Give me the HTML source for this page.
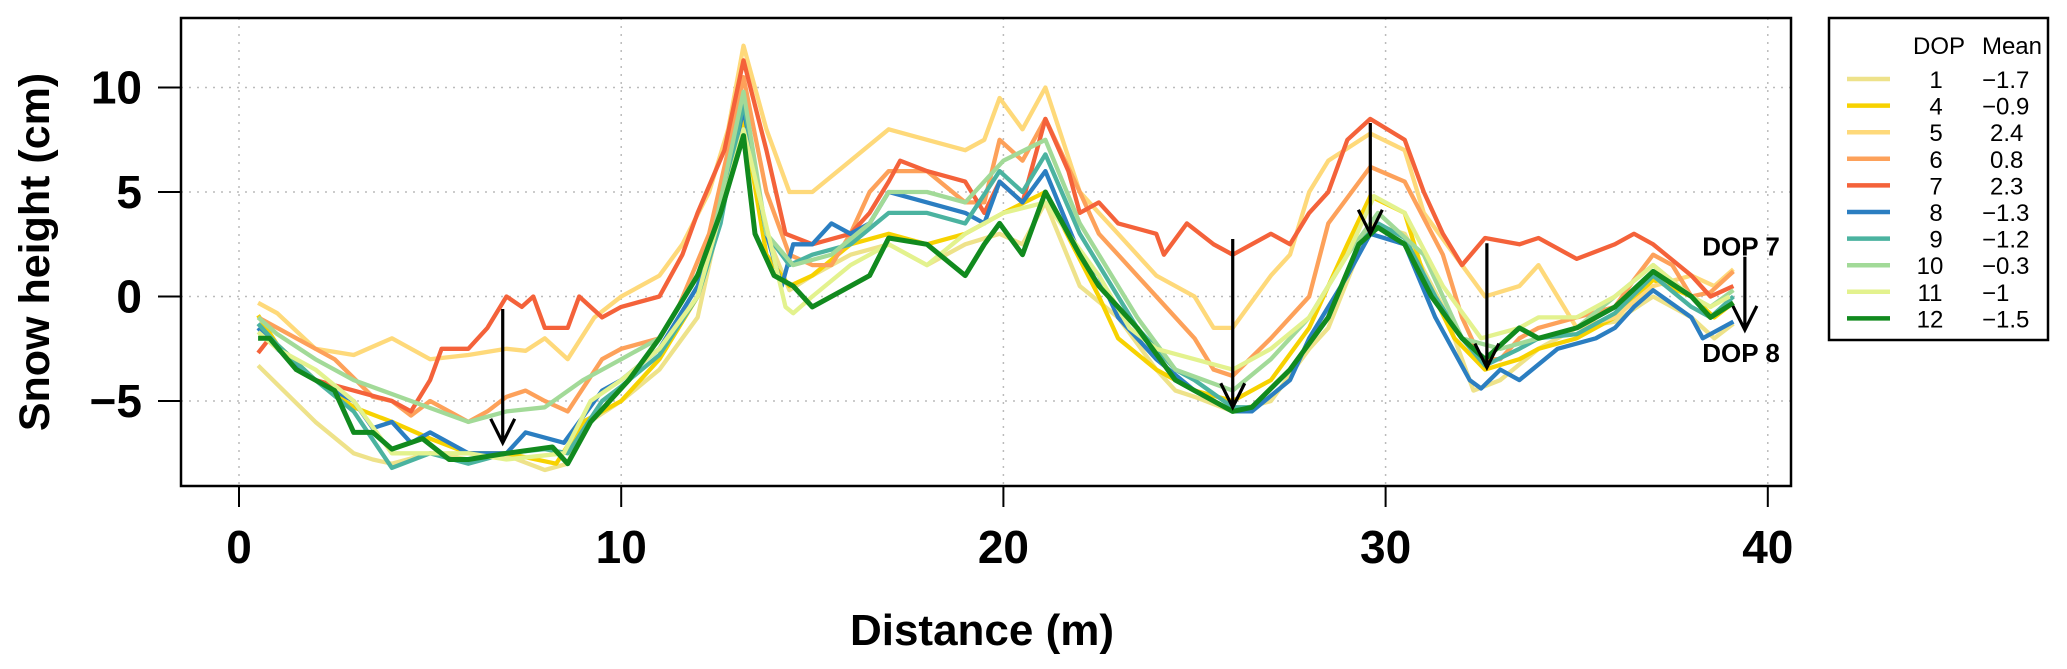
<!DOCTYPE html>
<html><head><meta charset="utf-8"><style>
html,body{margin:0;padding:0;background:#fff;}
svg{display:block;font-family:"Liberation Sans",sans-serif;}
</style></head><body>
<svg id="chart" width="2067" height="669" viewBox="0 0 2067 669" xmlns="http://www.w3.org/2000/svg">
<g id="grid"></g>
<g id="series"></g>
<g id="annot"></g>
<rect x="181" y="18" width="1610" height="468" fill="none" stroke="#000" stroke-width="2.5"/>
<g id="axes"></g>
<text x="982" y="645" text-anchor="middle" font-size="44" font-weight="bold">Distance (m)</text>
<text transform="translate(49,252) rotate(-90)" text-anchor="middle" font-size="43" font-weight="bold">Snow height (cm)</text>
<g id="legend">
<rect x="1829" y="18" width="219" height="322" fill="#fff" stroke="#000" stroke-width="2.5"/>
<text x="1939" y="54" text-anchor="middle" font-size="24">DOP</text>
<text x="2012" y="54" text-anchor="middle" font-size="24">Mean</text>
</g>
</svg>
<script>
const xTicks = [0, 10, 20, 30, 40];
const yTicks = [-5, 0, 5, 10];
const dopLabels = ['1','4','5','6','7','8','9','10','11','12'];
const meanLabels = ['\u22121.7','\u22120.9','2.4','0.8','2.3','\u22121.3','\u22121.2','\u22120.3','\u22121','\u22121.5'];
const colors = ['#EEE28A','#F7D200','#FED97A','#FDA15A','#F4623A','#2B7EC1','#4BB3A0','#A2DA98','#E3F28E','#118A1E'];

const dop1X = [0.5,1,2,3,3.5,4,5,6,7,8,8.6,9,10,11,12,12.6,13.2,13.8,14.4,15,16,17,18,19,19.9,20.5,21.1,22,23,24,24.5,25,26,27,28,28.5,29.6,30.5,31.5,32.3,33,34,35,36,37,38,38.6,39.1];
const dop1Y = [-3.3,-4.2,-6,-7.5,-7.8,-8,-7.5,-7.8,-7.6,-8.3,-8,-6.2,-5,-3.5,-1,4,9,3,0.3,1,2,2.5,1.5,2.5,3,2.5,4.5,0.5,-1,-3.5,-4.5,-4.8,-5.5,-5,-2.5,-1.5,3.5,3,-0.5,-4.5,-4,-2.5,-1.5,-1.2,0,-1,-2,-1.3];

const dop4X = [0.5,1,2,3,4,5,6,7,8.3,9,10,11,12,12.6,13.2,13.8,14.4,15,16,17,18,19,20,21.1,22.5,23,24,25,26,27,28,29,29.6,30.5,31,31.8,32.6,33.5,34,35,36,37,38,38.6,39.1];
const dop4Y = [-0.9,-2.3,-4,-5.3,-6,-6.8,-7.5,-7.5,-8,-6,-5,-3,0,5,8.5,2,0.5,1,2.5,3,2.5,3,4,5,0,-2,-3.5,-4.5,-5,-4,-1.5,2.5,4.8,4,1,-2,-3.5,-3,-2.5,-2,-1,0.8,0,-1,-0.3];

const dop5X = [0.5,1,2,3,4,5,6,7,7.5,8,8.6,9.3,10,11,11.6,12.3,12.8,13.2,13.8,14.4,15,16,17,18,19,19.5,19.9,20.5,21.1,22,22.5,23,24,25,25.5,26,27,27.5,28,28.5,29.6,30.5,31,32,32.6,33.5,34,35,36,37,38,38.6,39.1];
const dop5Y = [-0.3,-0.8,-2.5,-2.8,-2,-3,-2.8,-2.5,-2.6,-2,-3,-1,0,1,2.5,5,8,12,8,5,5,6.5,8,7.5,7,7.5,9.5,8,10,5,4,3,1,0,-1.5,-1.5,1,2,5,6.5,7.8,7,4,1.5,0,0.5,1.5,-1.5,-1,0.5,1,0.5,1.3];

const dop6X = [0.5,1.5,2.5,3.5,4,4.5,5,6,6.5,7,7.5,8,8.6,9.5,10,11,11.5,12.3,12.8,13.2,13.8,14.4,15,15.5,16,16.5,17,18,19,19.5,19.9,20.5,21.1,22,22.5,23,24,25,25.5,26,27,28,28.5,29.6,30.5,31.5,32,32.5,33,33.5,34,35,36,36.5,37,37.5,38,38.5,39.1];
const dop6Y = [-1,-2,-3,-4.8,-5,-5.7,-5,-6,-5.5,-4.8,-4.5,-5,-5.5,-3,-2.5,-2,-0.5,3,7,10.5,5,2,1.5,1.5,3,5,6,6,4.5,4.5,7.5,6.5,8.5,5,3,2,0,-2,-3.5,-3.8,-2,0,3.5,6.2,5.5,2,-1,-3,-3,-2,-1.5,-1,-0.5,0.8,2,1.5,0,0.2,1.2];

const dop7X = [0.5,0.8,1.5,2,3,4,4.5,5,5.3,6,6.5,7,7.4,7.7,8,8.6,8.9,9.5,10,11,11.6,12,12.7,13.2,13.8,14.3,15,16,16.5,17,17.3,18,19,19.5,19.9,20.5,21.1,21.7,22,22.5,23,24,24.2,24.8,25.5,26,27,27.5,28,28.5,29,29.6,30.5,31,31.5,32,32.6,33.5,34,35,36,36.5,37,38,38.5,39.1];
const dop7Y = [-2.7,-2,-3.5,-4,-4.5,-5,-5.5,-4,-2.5,-2.5,-1.5,0,-0.5,0,-1.5,-1.5,0,-1,-0.5,0,2,4,7,11.3,7,3,2.5,3,4,5.5,6.5,6,5.5,4,5.5,4.5,8.5,6,4,4.5,3.5,3,2,3.5,2.5,2,3,2.5,4,5,7.5,8.5,7.5,5,3,1.5,2.8,2.5,2.8,1.8,2.5,3,2.5,1,0,0.5];

const dop8X = [0.5,1,2,3,3.5,4,4.5,5,6,7,7.5,8.5,9.5,10,11,12,12.5,13.2,13.8,14.2,14.5,15,15.5,16,16.5,17,18,19,19.5,19.9,20.5,21.1,22,22.5,23,24,25,26,26.5,27.5,28,29,29.6,30.5,31.3,32.2,32.5,33,33.5,34.5,35.5,36,36.5,37,38,38.3,39.1];
const dop8Y = [-1.5,-2.5,-4,-5,-6.3,-6,-7,-6.5,-7.5,-7.5,-6.5,-7,-4.5,-4,-2.5,0.5,3,9,3,0.5,2.5,2.5,3.5,3,3.5,5,4.5,4,3.5,5.5,4.5,6,2,1,-1,-3,-4.5,-5.5,-5.5,-4,-2,1,3,2.5,-1,-4,-4.4,-3.5,-4,-2.5,-2,-1.5,-0.5,0.3,-1,-2,-1.2];

const dop9X = [0.5,1,2,3,4,5,6,7,8,8.6,9.5,10,11,12,12.6,13.2,13.8,14.4,15,16,17,18,19,19.9,20.5,21.1,22,22.5,23.5,24.5,25,26,26.5,27.5,28.5,29.3,29.8,30.5,31.3,32,32.6,33.5,34,35,36,37,38,38.5,39.1];
const dop9Y = [-1.3,-2.3,-4,-5.5,-8.2,-7.5,-8,-7.5,-7.3,-7.5,-5,-4.3,-2.8,0,3.5,9.3,3,1.5,2,2.5,4,4,3.5,6,5,6.8,3,1.5,-1.5,-3.5,-4,-5.3,-5.3,-3.5,-1,2.5,3.5,2.8,0,-2,-3.3,-2.5,-2,-1.8,-0.8,1,-0.5,-1,0];

const dop10X = [0.5,1,2,3,4.5,6,7,8,9,10,11,12.3,13.2,13.8,14.5,15.5,16.5,17,18,19,20,21.1,22,22.5,23.5,24.5,26,27,28,29,29.8,31,32,33,34,35,36,37,38,38.5,39.1];
const dop10Y = [-1,-1.8,-3,-4,-5,-6,-5.5,-5.3,-4,-3,-2,2,9.8,3,1.5,2,3.5,5,5,4.5,6.5,7.5,3.5,2,-1,-3.5,-4.5,-3,-1,2,4,2,-2,-2.5,-2,-1.5,0,1.5,0,-0.5,0.3];

const dop11X = [0.5,1,2,3,4,6,7,8.5,9.2,10,11,12,13.2,14.3,14.5,15,16,17,18,19,20,21.1,22.5,23.3,24,25,26,27,28,29,29.7,30.5,31.5,32.5,33.5,34,35,36,37,38,38.5,39];
const dop11Y = [-1.7,-2.5,-3.5,-5,-7.5,-7.5,-7.8,-7.5,-5,-4,-2.5,0,8,-0.5,-0.8,0,1.5,2.5,1.5,3,4,4.5,1,-1.5,-2.5,-3,-3.5,-2.5,-1,2,4.8,4,0.5,-2,-1.5,-1,-1,0,1.5,0,-0.5,0];

const dop12X = [0.5,0.8,1.5,2.5,3,3.5,4,4.8,5.5,6,7,8.2,8.6,9.2,9.7,10.2,11,12,12.6,13.2,13.5,14,14.5,15,16,16.5,17,18,19,19.5,19.9,20.5,21.1,22,22.5,23.5,24.5,25,26,26.5,27.5,28.5,29.3,29.8,30.5,31.2,32,32.6,33.5,34,35,36,37,38,38.5,39.1];
const dop12Y = [-2,-2,-3.5,-4.5,-6.5,-6.5,-7.3,-6.8,-7.8,-7.8,-7.5,-7.2,-8,-6,-5,-4,-2,1,4,7.7,3,1,0.5,-0.5,0.5,1,2.8,2.5,1,2.5,3.5,2,5,2,0.5,-1.5,-4,-4.5,-5.5,-5.3,-3.5,-1,2.5,3.3,2.5,0,-2,-3,-1.5,-2,-1.5,-0.5,1.2,0,-1,-0.3];

const seriesX = [dop1X,dop4X,dop5X,dop6X,dop7X,dop8X,dop9X,dop10X,dop11X,dop12X];
const seriesY = [dop1Y,dop4Y,dop5Y,dop6Y,dop7Y,dop8Y,dop9Y,dop10Y,dop11Y,dop12Y];

const arrowX = [6.9, 26.0, 29.6, 32.65, 39.4];
const arrowFrom = [-0.6, 2.75, 8.3, 2.55, 1.9];
const arrowTo = [-7.0, -5.3, 3.0, -3.4, -1.6];

const NS = 'http://www.w3.org/2000/svg';
const X0 = 239, XS = 38.22, Y0 = 296.5, YS = 20.9;
function sx(v){ return X0 + v * XS; }
function sy(v){ return Y0 - v * YS; }
function mk(tag, attrs, parent){ const e = document.createElementNS(NS, tag); for (const k in attrs) e.setAttribute(k, attrs[k]); parent.appendChild(e); return e; }

const grid = document.getElementById('grid');
const axes = document.getElementById('axes');
xTicks.forEach(t => {
  const g = mk('line', {x1:sx(t), x2:sx(t), y1:18, y2:486, stroke:'#bbb', 'stroke-width':1.5, 'stroke-dasharray':'2 6'}, grid);
  
  
  const tk = mk('line', {x1:sx(t), x2:sx(t), y1:486, y2:507, stroke:'#000', 'stroke-width':2}, axes);
  
  
  const lb = mk('text', {x:sx(t), y:563, 'text-anchor':'middle', 'font-size':46, 'font-weight':'bold'}, axes);
  lb.textContent = t;
  
  
});
yTicks.forEach(t => {
  const g = mk('line', {x1:181, x2:1791, y1:sy(t), y2:sy(t), stroke:'#bbb', 'stroke-width':1.5, 'stroke-dasharray':'2 6'}, grid);
  
  
  const tk = mk('line', {x1:158, x2:181, y1:sy(t), y2:sy(t), stroke:'#000', 'stroke-width':2}, axes);
  
  
  const lb = mk('text', {x:142, y:sy(t) + 16, 'text-anchor':'end', 'font-size':46, 'font-weight':'bold'}, axes);
  lb.textContent = t < 0 ? '\u2212' + Math.abs(t) : t;
  
  
});

const sg = document.getElementById('series');
seriesX.forEach((xs, i) => {
  const ys = seriesY[i];
  const d = xs.map((x, j) => (j ? 'L' : 'M') + sx(x).toFixed(1) + ' ' + sy(ys[j]).toFixed(1)).join(' ');
  const p = mk('path', {d:d, fill:'none', stroke:colors[i], 'stroke-width': i === 9 ? 5 : 4.3, 'stroke-linejoin':'round'}, sg);
  
  
});

const ag = document.getElementById('annot');
arrowX.forEach((x, i) => {
  const X = sx(x), yA = sy(arrowFrom[i]), yB = sy(arrowTo[i]);
  const a = mk('path', {d:`M${X} ${yA} L${X} ${yB} M${X-12} ${yB-24} L${X} ${yB} L${X+12} ${yB-24}`, fill:'none', stroke:'#000', 'stroke-width':3.2}, ag);
  
  
});
const t7 = mk('text', {x:sx(39.3), y:sy(2.4) + 9, 'text-anchor':'middle', 'font-size':26, 'font-weight':'bold'}, ag);
t7.textContent = 'DOP 7';


const t8 = mk('text', {x:sx(39.3), y:sy(-2.7) + 9, 'text-anchor':'middle', 'font-size':26, 'font-weight':'bold'}, ag);
t8.textContent = 'DOP 8';



const lg = document.getElementById('legend');
dopLabels.forEach((lab, i) => {
  const y = 79 + i * 26.6;
  const l = mk('line', {x1:1847, x2:1890, y1:y, y2:y, stroke:colors[i], 'stroke-width':4.5}, lg);
  
  
  const t1 = mk('text', {x: lab.length > 1 ? 1930 : 1936, y:y + 9, 'text-anchor':'middle', 'font-size':24}, lg);
  t1.textContent = lab;
  
  
  const neg = meanLabels[i].charAt(0) === '\u2212';
  const t2 = mk('text', {x: neg ? 1982 : 1990, y:y + 9, 'text-anchor':'start', 'font-size':24}, lg);
  t2.textContent = meanLabels[i];
  
  
});
</script>
</body></html>
